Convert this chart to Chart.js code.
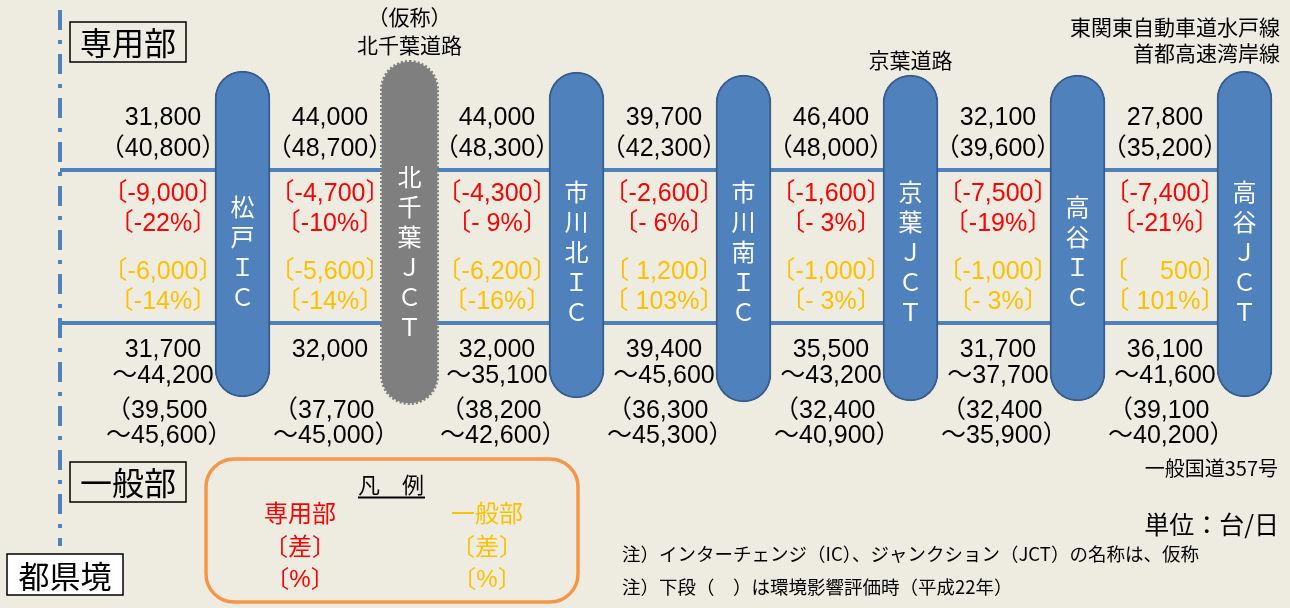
<!DOCTYPE html>
<html>
<head>
<meta charset="utf-8">
<script src="https://cdn.jsdelivr.net/npm/chart.js@4/dist/chart.umd.min.js"></script>
<style>
  html, body { margin: 0; padding: 0; background: #EEECE1; }
  #wrap { width: 1290px; height: 608px; position: relative; }
</style>
</head>
<body>
<div id="wrap"><canvas id="grafica"></canvas></div>
<script>
// ---- datos ----
const interchanges = ['松戸ＩＣ', '北千葉ＪＣＴ', '市川北ＩＣ', '市川南ＩＣ', '京葉ＪＣＴ', '高谷ＩＣ', '高谷ＪＣＴ'];
const planned = [false, true, false, false, false, false, false];

// 専用部 (dedicated lanes), per section between interchanges
const senyoNow = [31800, 44000, 44000, 39700, 46400, 32100, 27800];
const senyoEA = [40800, 48700, 48300, 42300, 48000, 39600, 35200];
const senyoDiff = [-9000, -4700, -4300, -2600, -1600, -7500, -7400];
const senyoPct = [-22, -10, -9, -6, -3, -19, -21];

// 一般部 (general road)
const ippanDiff = [-6000, -5600, -6200, 1200, -1000, -1000, 500];
const ippanPct = [-14, -14, -16, 103, -3, -3, 101];
const ippanMin = [31700, 32000, 32000, 39400, 35500, 31700, 36100];
const ippanMax = [44200, null, 35100, 45600, 43200, 37700, 41600];
const ippanEAMin = [39500, 37700, 38200, 36300, 32400, 32400, 39100];
const ippanEAMax = [45600, 45000, 42600, 45300, 40900, 35900, 40200];

const crossTop = [
  { node: 1, lines: ['（仮称）', '北千葉道路'] },
  { node: 4, lines: ['京葉道路'] }
];
const crossRight = ['東関東自動車道水戸線', '首都高速湾岸線'];
const crossBottom = '一般国道357号';
const notes = ['注）インターチェンジ（IC）、ジャンクション（JCT）の名称は、仮称', '注）下段（　）は環境影響評価時（平成22年）'];

// ---- layout (schematic, pixels) ----
const W = 1290, H = 608;
const nodeX0 = 242.5, nodeGap = 167;
const xMin = -nodeX0 / nodeGap, xMax = (W - nodeX0) / nodeGap;
const borderX = (60 - nodeX0) / nodeGap;
const sectionX = i => i - 0.5 + 4 / nodeGap;
const pillTop = [71, 62, 72, 75, 75, 75, 71];
const pillBottom = [397, 403, 398, 402, 401, 401, 397];
const roadY = [170, 323];
const rowY = { now: 118, ea: 149, sDiff: 194, sPct: 224, iDiff: 272, iPct: 302, iMin: 350, iMax: 376, iEAMin: 411, iEAMax: 436 };

const BLUE = '#4F81BD', BLUE_DARK = '#385D8A', GRAY = '#7F7F7F';
const RED = '#FF0000', YELLOW = '#FFC000';
const NUM = '"Liberation Sans", "Noto Sans CJK JP", sans-serif';
const JP = '"Noto Sans CJK JP", sans-serif';

const fmt = v => v.toLocaleString('en-US');
const diffText = v => v < 0 ? '-' + fmt(-v) : (v < 1000 ? '\u3000 ' : ' ') + fmt(v);
const pctText = v => v < 0 ? (v > -10 ? '- ' : '-') + (-v) + '%' : ' ' + v + '%';

const OPEN = '〔（', CLOSE = '〕）';
function tight(ctx, str, cx, cy, size) {
  const chars = [...str];
  const w = chars.map(c => (OPEN.includes(c) || CLOSE.includes(c)) ? size / 2 : ctx.measureText(c).width);
  let pos = cx - w.reduce((a, b) => a + b, 0) / 2;
  ctx.textAlign = 'left';
  chars.forEach((c, k) => {
    ctx.fillText(c, OPEN.includes(c) ? pos - size / 2 : pos, cy);
    pos += w[k];
  });
}

const textos = {
  id: 'textos',
  afterDatasetsDraw(chart) {
    const { ctx, scales: { x, y }, chartArea } = chart;
    ctx.save();
    ctx.textBaseline = 'middle';

    // dotted outline of the planned junction
    const meta = chart.getDatasetMeta(2);
    meta.data.forEach((el, i) => {
      if (!planned[i]) return;
      const top = Math.min(el.y, el.base), h = Math.abs(el.base - el.y);
      ctx.beginPath();
      ctx.roundRect(el.x - el.width / 2, top, el.width, h, el.width / 2);
      ctx.setLineDash([2, 2]);
      ctx.lineWidth = 4;
      ctx.strokeStyle = GRAY;
      ctx.stroke();
      ctx.setLineDash([]);
    });

    // interchange names inside the pills
    ctx.fillStyle = '#FFFFFF';
    ctx.font = '24px ' + JP;
    ctx.textAlign = 'center';
    interchanges.forEach((name, i) => {
      const chars = [...name];
      const cx = x.getPixelForValue(i);
      chars.forEach((c, k) => {
        ctx.fillText(c, cx, y.getPixelForValue(252 + (k - (chars.length - 1) / 2) * 30));
      });
    });

    // section values
    const size = 25;
    ctx.font = size + 'px ' + NUM;
    senyoNow.forEach((v, i) => {
      const cx = x.getPixelForValue(sectionX(i));
      ctx.fillStyle = '#000000';
      tight(ctx, fmt(v), cx, y.getPixelForValue(rowY.now), size);
      tight(ctx, '（' + fmt(senyoEA[i]) + '）', cx, y.getPixelForValue(rowY.ea), size);
      ctx.fillStyle = RED;
      tight(ctx, '〔' + diffText(senyoDiff[i]) + '〕', cx, y.getPixelForValue(rowY.sDiff), size);
      tight(ctx, '〔' + pctText(senyoPct[i]) + '〕', cx, y.getPixelForValue(rowY.sPct), size);
      ctx.fillStyle = YELLOW;
      tight(ctx, '〔' + diffText(ippanDiff[i]) + '〕', cx, y.getPixelForValue(rowY.iDiff), size);
      tight(ctx, '〔' + pctText(ippanPct[i]) + '〕', cx, y.getPixelForValue(rowY.iPct), size);
      ctx.fillStyle = '#000000';
      tight(ctx, fmt(ippanMin[i]), cx, y.getPixelForValue(rowY.iMin), size);
      if (ippanMax[i] !== null) tight(ctx, '～' + fmt(ippanMax[i]), cx, y.getPixelForValue(rowY.iMax), size);
      tight(ctx, '（' + fmt(ippanEAMin[i]), cx, y.getPixelForValue(rowY.iEAMin), size);
      tight(ctx, '～' + fmt(ippanEAMax[i]) + '）', cx, y.getPixelForValue(rowY.iEAMax), size);
    });

    // crossing roads
    ctx.fillStyle = '#000000';
    ctx.textAlign = 'center';
    ctx.font = '21px ' + JP;
    crossTop.forEach(r => {
      const cx = x.getPixelForValue(r.node);
      const y0 = r.lines.length > 1 ? 17 : 60;
      r.lines.forEach((t, k) => ctx.fillText(t, cx, y0 + k * 28));
    });
    ctx.textAlign = 'right';
    crossRight.forEach((t, k) => ctx.fillText(t, chartArea.right - 10, 27 + k * 26));
    ctx.font = '20px ' + JP;
    ctx.fillText(crossBottom, chartArea.right - 12, 468);
    ctx.font = '25px ' + JP;
    ctx.fillText('単位：台/日', chartArea.right - 11, 524);

    ctx.textAlign = 'left';
    ctx.font = '18.5px ' + JP;
    notes.forEach((t, k) => ctx.fillText(t, 622, 554 + k * 33));

    // boxed labels
    ctx.lineWidth = 1.5;
    ctx.strokeStyle = '#000000';
    ctx.strokeRect(70, 22, 116, 40);
    ctx.strokeRect(70, 462, 116, 40);
    ctx.fillStyle = '#FFFFFF';
    ctx.fillRect(7, 554, 116, 41);
    ctx.strokeRect(7, 554, 116, 41);
    ctx.fillStyle = '#000000';
    ctx.textAlign = 'center';
    ctx.font = '32px ' + JP;
    ctx.fillText('専用部', 128, 43);
    ctx.fillText('一般部', 128, 483);
    ctx.font = '31px ' + JP;
    ctx.fillText('都県境', 65, 576);

    // legend box
    ctx.beginPath();
    ctx.roundRect(206, 459, 372, 143, 28);
    ctx.lineWidth = 3.5;
    ctx.strokeStyle = '#F79646';
    ctx.stroke();
    ctx.font = '22px ' + JP;
    ctx.fillText('凡\u3000例', 391, 485);
    ctx.beginPath();
    ctx.moveTo(358, 497.5);
    ctx.lineTo(425, 497.5);
    ctx.lineWidth = 2;
    ctx.strokeStyle = '#000000';
    ctx.stroke();
    [[RED, 300, '専用部'], [YELLOW, 487, '一般部']].forEach(([col, cx, t]) => {
      ctx.fillStyle = col;
      ctx.textAlign = 'center';
      ctx.font = '24px ' + JP;
      ctx.fillText(t, cx, 513);
      ctx.font = '24px ' + NUM;
      tight(ctx, '〔差〕', cx, 548, 24);
      tight(ctx, '〔%〕', cx, 580, 24);
    });
    ctx.restore();
  }
};

new Chart(document.getElementById('grafica'), {
  type: 'bar',
  data: {
    datasets: [
      {
        type: 'line',
        label: '都県境',
        data: [{ x: borderX, y: 10 }, { x: borderX, y: 546 }],
        borderColor: BLUE,
        borderWidth: 4,
        borderDash: [20, 10, 4, 10],
        pointRadius: 0,
        order: 3
      },
      {
        type: 'line',
        label: '道路',
        data: [
          { x: borderX, y: roadY[0] }, { x: interchanges.length - 1, y: roadY[0] },
          { x: NaN, y: NaN },
          { x: borderX, y: roadY[1] }, { x: interchanges.length - 1, y: roadY[1] }
        ],
        borderColor: BLUE,
        borderWidth: 4,
        pointRadius: 0,
        spanGaps: false,
        order: 2
      },
      {
        type: 'bar',
        label: 'IC / JCT',
        data: interchanges.map((n, i) => ({ x: i, y: [pillTop[i], pillBottom[i]] })),
        backgroundColor: planned.map(p => p ? GRAY : BLUE),
        borderColor: planned.map(p => p ? GRAY : BLUE_DARK),
        borderWidth: planned.map(p => p ? 0 : 2),
        borderRadius: 40,
        borderSkipped: false,
        barThickness: 55,
        order: 1
      }
    ]
  },
  options: {
    responsive: true,
    maintainAspectRatio: false,
    animation: false,
    events: [],
    layout: { padding: 0 },
    plugins: { legend: { display: false }, tooltip: { enabled: false } },
    scales: {
      x: { type: 'linear', min: xMin, max: xMax, offset: false, display: false },
      y: { type: 'linear', min: 0, max: H, reverse: true, display: false }
    }
  },
  plugins: [textos]
});
</script>
</body>
</html>
